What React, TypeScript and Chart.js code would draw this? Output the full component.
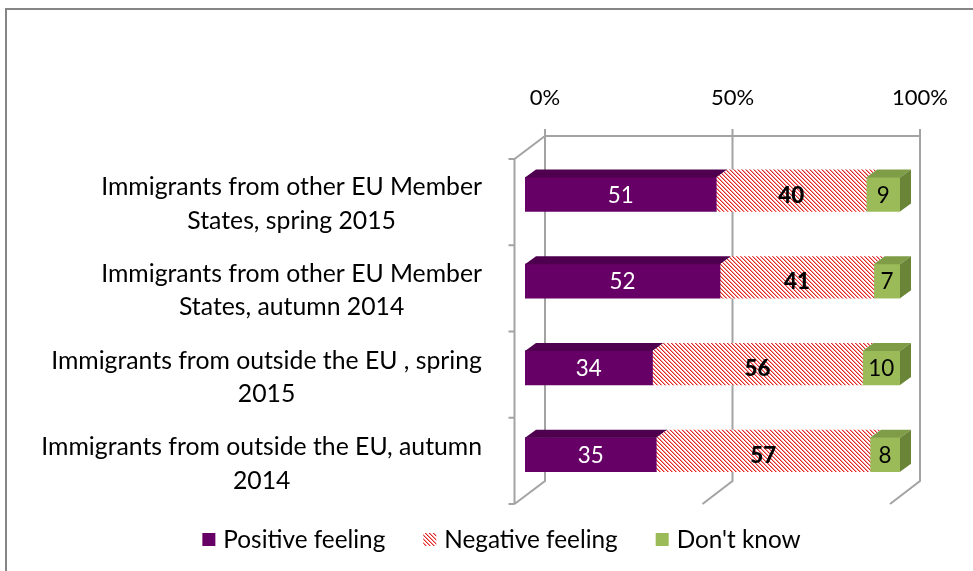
import React, { useEffect, useRef } from "react";
import { Chart, registerables } from "chart.js";

Chart.register(...registerables);

const categories: string[][] = [
  ["Immigrants from other EU Member", "States, spring 2015"],
  ["Immigrants from other EU Member", "States, autumn 2014"],
  ["Immigrants from outside the EU , spring", "2015"],
  ["Immigrants from outside the EU, autumn", "2014"],
];
const seriesNames = ["Positive feeling", "Negative feeling", "Don't know"];
const positive = [51, 52, 34, 35];
const negative = [40, 41, 56, 57];
const dontKnow = [9, 7, 10, 8];
const xTicks = [0, 50, 100];
const xTickLabels = ["0%", "50%", "100%"];

const FAMILY = 'Lato, "DejaVu Sans", sans-serif';
const PURPLE = "#660066";
const PURPLE_TOP = "#4E004E";
const RED = "#E02A2A";
const RED_SOFT = "#F19A9A";
const GREEN = "#9BBB59";
const GREEN_TOP = "#7F9C47";
const GREEN_SIDE = "#6A8438";
const GRID = "#A3A3A3";

function makeStripes(ctx: CanvasRenderingContext2D) {
  const c = document.createElement("canvas");
  c.width = 8;
  c.height = 8;
  const g = c.getContext("2d")!;
  g.fillStyle = "#ffffff";
  g.fillRect(0, 0, 8, 8);
  for (let y = 0; y < 8; y++)
    for (let x = 0; x < 8; x++) {
      const m = (((x - y) % 4) + 4) % 4;
      if (m === 0) {
        g.fillStyle = RED;
        g.fillRect(x, y, 1, 1);
      } else if (m === 1) {
        g.fillStyle = RED_SOFT;
        g.fillRect(x, y, 1, 1);
      }
    }
  return ctx.createPattern(c, "repeat")!;
}

function fitSize(ctx: CanvasRenderingContext2D, text: string, target: number, weight: string) {
  ctx.font = `${weight} 100px ${FAMILY}`;
  const w = ctx.measureText(text).width;
  return (100 * target) / w;
}

const DX = 11;
const DY = -8;

const threeD = {
  id: "threeD",
  beforeDraw(chart: any) {
    const ctx: CanvasRenderingContext2D = chart.ctx;
    ctx.save();
    ctx.fillStyle = "#ffffff";
    ctx.fillRect(0, 0, chart.width, chart.height);
    ctx.strokeStyle = "#868686";
    ctx.lineWidth = 2;
    ctx.beginPath();
    ctx.moveTo(chart.width, 9);
    ctx.lineTo(6, 9);
    ctx.lineTo(6, chart.height);
    ctx.stroke();
    ctx.restore();
  },
  beforeDatasetsDraw(chart: any) {
    const ctx: CanvasRenderingContext2D = chart.ctx;
    const xs = chart.scales.x;
    const ca = chart.chartArea;
    const backTop = ca.top - 15;
    const backBottom = ca.bottom - 17;
    const frontTop = ca.top + 8;
    const frontBottom = ca.bottom + 6;
    const axisX = xs.getPixelForValue(0) - 10.5;
    ctx.save();
    ctx.strokeStyle = GRID;
    ctx.lineWidth = 2;
    ctx.lineCap = "butt";
    ctx.beginPath();
    ctx.moveTo(xs.getPixelForValue(0) + 20, backTop);
    ctx.lineTo(xs.getPixelForValue(100) + 20, backTop);
    xTicks.forEach((v) => {
      const bx = xs.getPixelForValue(v) + 20;
      ctx.moveTo(bx, backTop - 7);
      ctx.lineTo(bx, backBottom);
      ctx.lineTo(v === 0 ? axisX : xs.getPixelForValue(v) - 10, frontBottom);
    });
    ctx.moveTo(xs.getPixelForValue(0) + 20, backTop);
    ctx.lineTo(axisX, frontTop);
    ctx.moveTo(axisX, frontTop);
    ctx.lineTo(axisX, frontBottom);
    const n = categories.length;
    for (let k = 0; k <= n; k++) {
      const y = frontTop + (k * (frontBottom - frontTop)) / n;
      ctx.moveTo(axisX - 6, y);
      ctx.lineTo(axisX, y);
    }
    ctx.stroke();
    ctx.restore();
  },
  afterDatasetsDraw(chart: any) {
    const ctx: CanvasRenderingContext2D = chart.ctx;
    const xs = chart.scales.x;
    const ys = chart.scales.y;
    const ca = chart.chartArea;
    const stripes = (chart as any).$stripes;
    const topFills = [PURPLE_TOP, stripes, GREEN_TOP];
    ctx.save();
    chart.data.datasets.forEach((ds: any, i: number) => {
      const meta = chart.getDatasetMeta(i);
      meta.data.forEach((el: any) => {
        const x0 = Math.min(el.base, el.x);
        const x1 = Math.max(el.base, el.x);
        const top = el.y - el.height / 2;
        const bottom = el.y + el.height / 2;
        ctx.fillStyle = topFills[i];
        ctx.beginPath();
        ctx.moveTo(x0, top);
        ctx.lineTo(x0 + DX, top + DY);
        ctx.lineTo(x1 + DX, top + DY);
        ctx.lineTo(x1, top);
        ctx.closePath();
        ctx.fill();
        if (i === chart.data.datasets.length - 1) {
          ctx.fillStyle = GREEN_SIDE;
          ctx.beginPath();
          ctx.moveTo(x1, top);
          ctx.lineTo(x1 + DX, top + DY);
          ctx.lineTo(x1 + DX, bottom + DY);
          ctx.lineTo(x1, bottom);
          ctx.closePath();
          ctx.fill();
        }
      });
    });

    // value labels
    const valueSize = fitSize(ctx, "35", 26, "normal");
    ctx.textAlign = "center";
    ctx.textBaseline = "middle";
    chart.data.datasets.forEach((ds: any, i: number) => {
      const meta = chart.getDatasetMeta(i);
      meta.data.forEach((el: any, j: number) => {
        const cx = (el.base + el.x) / 2;
        const txt = String(ds.data[j]);
        ctx.font = `${i === 1 ? "900" : "normal"} ${valueSize}px ${FAMILY}`;
        ctx.fillStyle = i === 0 ? "#ffffff" : "#000000";
        ctx.fillText(txt, cx, el.y + 1);
      });
    });

    // x tick labels (aligned with the back wall)
    const tickSize = fitSize(ctx, "100%", 56, "normal");
    ctx.font = `normal ${tickSize}px ${FAMILY}`;
    ctx.fillStyle = "#000000";
    xTicks.forEach((v, k) => {
      ctx.fillText(xTickLabels[k], xs.getPixelForValue(v) + 20, ca.top - 53);
    });

    // category labels
    const catSize = fitSize(ctx, "Immigrants from other EU Member", 381, "normal");
    ctx.font = `normal ${catSize}px ${FAMILY}`;
    const lineH = 33.5;
    const rightEdge = 482;
    categories.forEach((lines, j) => {
      const cy = ys.getPixelForValue(j) + 8.5;
      const w = Math.max(...lines.map((l) => ctx.measureText(l).width));
      const cx = rightEdge - w / 2;
      lines.forEach((l, li) => {
        ctx.fillText(l, cx, cy + (li - (lines.length - 1) / 2) * lineH + 1);
      });
    });

    // legend
    const legSize = fitSize(ctx, "Positive feeling", 162, "normal");
    ctx.font = `normal ${legSize}px ${FAMILY}`;
    const fills = [PURPLE, stripes, GREEN];
    const box = 13;
    const gap = 8;
    const itemGap = 38;
    const widths = chart.data.datasets.map((d: any) => box + gap + ctx.measureText(d.label).width);
    const total = widths.reduce((a: number, b: number) => a + b, 0) + itemGap * (widths.length - 1);
    let x = 501.5 - total / 2;
    const ly = 539.5;
    ctx.textAlign = "left";
    chart.data.datasets.forEach((d: any, i: number) => {
      ctx.fillStyle = fills[i];
      ctx.fillRect(x, ly - box / 2, box, box);
      ctx.fillStyle = "#000000";
      ctx.fillText(d.label, x + box + gap, ly + 1);
      x += widths[i] + itemGap;
    });
    ctx.restore();
  },
};

export default function App() {
  const ref = useRef<HTMLCanvasElement>(null);
  useEffect(() => {
    const canvas = ref.current!;
    const ctx = canvas.getContext("2d")!;
    const stripes = makeStripes(ctx);
    const chart = new Chart(canvas, {
      type: "bar",
      data: {
        labels: categories,
        datasets: [
          { label: seriesNames[0], data: positive, backgroundColor: PURPLE },
          { label: seriesNames[1], data: negative, backgroundColor: stripes as any },
          { label: seriesNames[2], data: dontKnow, backgroundColor: GREEN },
        ],
      },
      options: {
        indexAxis: "y",
        responsive: false,
        animation: false,
        events: [],
        layout: { padding: { left: 525, right: 73, top: 151, bottom: 73 } },
        datasets: { bar: { barThickness: 34, borderWidth: 0 } } as any,
        scales: {
          x: { stacked: true, min: 0, max: 100, display: false },
          y: { stacked: true, display: false },
        },
        plugins: { legend: { display: false }, tooltip: { enabled: false } },
      },
      plugins: [threeD],
    });
    (chart as any).$stripes = stripes;
    chart.draw();
    return () => chart.destroy();
  }, []);
  return (
    <div style={{ position: "absolute", left: 0, top: 0, width: 973, height: 571 }}>
      <canvas ref={ref} width={973} height={571} style={{ display: "block" }} />
    </div>
  );
}
